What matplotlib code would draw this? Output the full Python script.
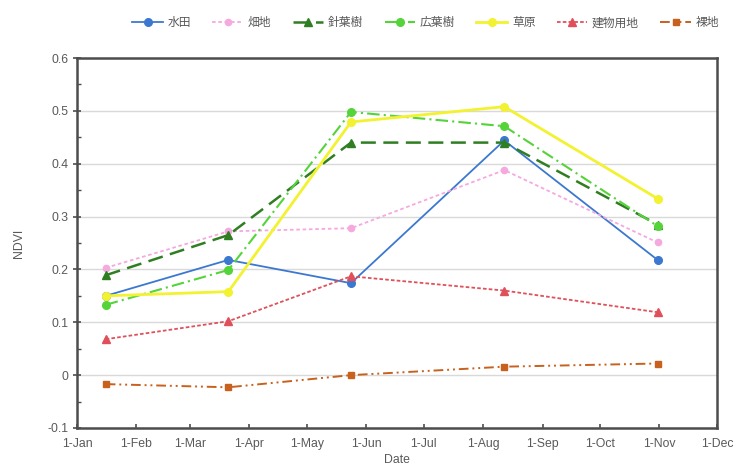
import datetime as dt
import matplotlib
matplotlib.use("Agg")
import matplotlib.pyplot as plt
import matplotlib.dates as mdates
from matplotlib.ticker import FuncFormatter, MultipleLocator

plt.rcParams['font.family'] = ['Liberation Sans', 'Noto Sans CJK JP', 'DejaVu Sans']
plt.rcParams['axes.unicode_minus'] = False

# Observation dates (image acquisitions)
dates = [dt.date(2019, 1, 16), dt.date(2019, 3, 21), dt.date(2019, 5, 24),
         dt.date(2019, 8, 12), dt.date(2019, 10, 31)]

# NDVI by land-cover class
suiden = [0.150, 0.218, 0.174, 0.444, 0.218]      # 水田
hatachi = [0.203, 0.272, 0.278, 0.388, 0.251]     # 畑地
shinyoju = [0.189, 0.265, 0.440, 0.440, 0.285]   # 針葉樹
koyoju = [0.133, 0.199, 0.498, 0.471, 0.282]     # 広葉樹
sogen = [0.150, 0.158, 0.479, 0.508, 0.334]      # 草原
tatemono = [0.068, 0.102, 0.187, 0.160, 0.119]   # 建物用地
rachi = [-0.017, -0.023, 0.000, 0.016, 0.022]    # 裸地

labels = ['水田', '畑地', '針葉樹', '広葉樹', '草原', '建物用地', '裸地']
series = [suiden, hatachi, shinyoju, koyoju, sogen, tatemono, rachi]

styles = [
    dict(color='#3C78D0', ls='-', marker='o', lw=1.3, ms=5.5),
    dict(color='#F5A9DE', ls=(0, (2, 1.5)), marker='o', lw=1.3, ms=4.5),
    dict(color='#2F7F22', ls=(0, (6, 3)), marker='^', lw=1.8, ms=5.5),
    dict(color='#55D43A', ls=(0, (6, 2, 1, 2)), marker='o', lw=1.5, ms=5.5),
    dict(color='#F2F230', ls='-', marker='o', lw=2.0, ms=5.5),
    dict(color='#E0505A', ls=(0, (2, 1.2)), marker='^', lw=1.3, ms=5.5),
    dict(color='#C8611E', ls=(0, (5, 2, 1, 2, 1, 2)), marker='s', lw=1.4, ms=5),
]

fig = plt.figure(figsize=(7.38, 4.68), dpi=100)
ax = fig.add_axes([0.1043, 0.0855, 0.8672, 0.7905])

for vals, lab, st in zip(series, labels, styles):
    ax.plot(dates, vals, label=lab, color=st['color'], linestyle=st['ls'],
            linewidth=st['lw'], marker=st['marker'], markersize=st['ms'],
            markeredgecolor=st['color'], markerfacecolor=st['color'], zorder=3)

ax.set_xlim(dt.date(2019, 1, 1), dt.date(2019, 12, 1))
ax.set_ylim(-0.1, 0.6)

ax.xaxis.set_major_locator(mdates.MonthLocator())
ax.xaxis.set_major_formatter(FuncFormatter(
    lambda v, p: f"{mdates.num2date(v).day}-{mdates.num2date(v).strftime('%b')}"))
ax.yaxis.set_major_locator(MultipleLocator(0.1))
ax.yaxis.set_minor_locator(MultipleLocator(0.05))
ax.yaxis.set_major_formatter(FuncFormatter(lambda v, p: f"{round(v, 2):g}"))

ax.grid(axis='y', color='#D9D9D9', linewidth=1.0, zorder=0)
ax.set_axisbelow(True)

for sp in ax.spines.values():
    sp.set_color('#4D4D4D')
    sp.set_linewidth(1.8)

ax.tick_params(axis='x', direction='in', length=3, width=1.2, color='#4D4D4D',
               labelsize=8.8, labelcolor='#595959', pad=7)
ax.tick_params(axis='y', which='major', direction='inout', length=6, width=1.2,
               color='#4D4D4D', labelsize=8.8, labelcolor='#595959', pad=3)
ax.tick_params(axis='y', which='minor', direction='in', length=3, width=1.0,
               color='#4D4D4D')

ax.set_xlabel('Date', fontsize=8.8, color='#595959', labelpad=3)
ax.set_ylabel('NDVI', fontsize=8.8, color='#595959', labelpad=16)

leg = ax.legend(loc='center', bbox_to_anchor=(0.545, 1.095), ncol=7, frameon=False,
                handlelength=2.6, columnspacing=1.8, handletextpad=0.4,
                prop={'family': ['Noto Sans CJK JP', 'DejaVu Sans'], 'size': 8.5})
for t in leg.get_texts():
    t.set_color('#595959')

fig.savefig('out.png', dpi=100)
